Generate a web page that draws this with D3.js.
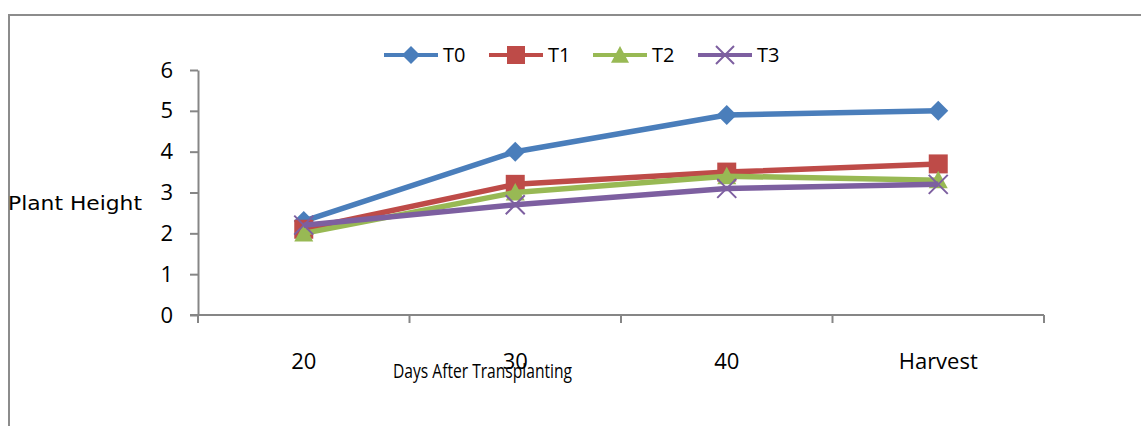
<!DOCTYPE html>
<html>
<head>
<meta charset="utf-8">
<script src="https://cdn.jsdelivr.net/npm/d3@7"></script>
<style>
  html, body { margin: 0; padding: 0; background: #fff; }
  svg { display: block; }
</style>
</head>
<body>
<svg id="chart" width="1141" height="426"></svg>
<script>
// Plant height by days after transplanting, for four treatments
const categories = ["20", "30", "40", "Harvest"];
const seriesNames = ["T0", "T1", "T2", "T3"];
const T0 = [2.3, 4.0, 4.9, 5.0];
const T1 = [2.1, 3.2, 3.5, 3.7];
const T2 = [2.0, 3.0, 3.4, 3.3];
const T3 = [2.2, 2.7, 3.1, 3.2];
const yTicks = [0, 1, 2, 3, 4, 5, 6];

const seriesValues = [T0, T1, T2, T3];
const colors = ["#4a7ebb", "#be4b48", "#98b954", "#7d5fa0"];
const symbols = ["diamond", "square", "triangle", "cross"];

const labelFont = "'Open Sans', 'Noto Sans', sans-serif";

const svg = d3.select("#chart");

// outer frame
svg.append("path")
  .attr("d", "M9,426 V15 H1141")
  .attr("fill", "none")
  .attr("stroke", "#8c8c8c")
  .attr("stroke-width", 2);

const plot = { left: 198, right: 1044, top: 70, bottom: 315 };

const x = d3.scaleBand().domain(categories).range([plot.left, plot.right]);
const y = d3.scaleLinear().domain([0, 6]).range([plot.bottom, plot.top]);

// y axis
const yAxis = svg.append("g")
  .attr("transform", `translate(${plot.left},0)`)
  .call(d3.axisLeft(y).tickValues(yTicks).tickFormat(d3.format("d"))
    .tickSize(8).tickPadding(17).tickSizeOuter(0));
yAxis.select(".domain").attr("stroke", "#868686").attr("stroke-width", 2);
yAxis.selectAll(".tick line").attr("stroke", "#868686").attr("stroke-width", 2);
yAxis.selectAll(".tick text")
  .attr("fill", "#000")
  .attr("font-family", labelFont)
  .attr("font-size", 22);

// x axis with tick marks at band edges
const xAxis = svg.append("g")
  .attr("transform", `translate(0,${plot.bottom})`);
xAxis.append("line")
  .attr("x1", plot.left - 8).attr("x2", plot.right)
  .attr("stroke", "#868686").attr("stroke-width", 2);
const edges = categories.map(c => x(c)).concat([x(categories[categories.length - 1]) + x.bandwidth()]);
xAxis.selectAll("line.edge").data(edges).join("line")
  .attr("class", "edge")
  .attr("x1", d => d).attr("x2", d => d)
  .attr("y1", 0).attr("y2", 8)
  .attr("stroke", "#868686").attr("stroke-width", 2);
xAxis.selectAll("text.cat").data(categories).join("text")
  .attr("class", "cat")
  .attr("x", d => x(d) + x.bandwidth() / 2)
  .attr("y", 54)
  .attr("text-anchor", "middle")
  .attr("font-family", labelFont)
  .attr("font-size", 22)
  .attr("fill", "#000")
  .text(d => d);

// axis titles
svg.append("text")
  .attr("x", 393).attr("y", 378)
  .attr("font-family", "'Liberation Sans Narrow', 'Open Sans', sans-serif")
  .attr("font-size", 20)
  .attr("textLength", 179)
  .attr("lengthAdjust", "spacingAndGlyphs")
  .attr("fill", "#000")
  .text("Days After Transplanting");

svg.append("text")
  .attr("x", 8).attr("y", 210)
  .attr("font-family", "'DejaVu Sans', sans-serif")
  .attr("font-size", 19.5)
  .attr("textLength", 134)
  .attr("lengthAdjust", "spacingAndGlyphs")
  .attr("fill", "#000")
  .text("Plant Height");

// marker shapes
function markerPath(kind, s) {
  const h = s / 2;
  switch (kind) {
    case "diamond": return `M0,${-h}L${h},0L0,${h}L${-h},0Z`;
    case "square": return `M${-h},${-h}H${h}V${h}H${-h}Z`;
    case "triangle": return `M0,${-h}L${h},${h * 0.85}L${-h},${h * 0.85}Z`;
    case "cross": return `M${-h},${-h}L${h},${h}M${h},${-h}L${-h},${h}`;
  }
}

function drawMarker(g, kind, color, cx, cy, s) {
  const p = g.append("path")
    .attr("transform", `translate(${cx},${cy})`)
    .attr("d", markerPath(kind, s));
  if (kind === "cross") {
    p.attr("fill", "none").attr("stroke", color).attr("stroke-width", 2);
  } else {
    p.attr("fill", color);
  }
}

const line = d3.line()
  .x((d, i) => x(categories[i]) + x.bandwidth() / 2)
  .y(d => y(d));

seriesValues.forEach((vals, si) => {
  const g = svg.append("g");
  g.append("path")
    .datum(vals)
    .attr("d", line)
    .attr("fill", "none")
    .attr("stroke", colors[si])
    .attr("stroke-width", 5.5)
    .attr("stroke-linejoin", "round");
  vals.forEach((v, i) => {
    drawMarker(g, symbols[si], colors[si], x(categories[i]) + x.bandwidth() / 2, y(v), si === 0 ? 20 : 19);
  });
});

// legend
const legendX = [384, 489, 593, 698];
const legend = svg.append("g");
seriesNames.forEach((name, si) => {
  const lx = legendX[si];
  legend.append("line")
    .attr("x1", lx).attr("x2", lx + 54)
    .attr("y1", 55).attr("y2", 55)
    .attr("stroke", colors[si]).attr("stroke-width", 4);
  drawMarker(legend, symbols[si], colors[si], lx + 27, 55, 18);
  legend.append("text")
    .attr("x", lx + 59).attr("y", 62)
    .attr("font-family", labelFont)
    .attr("font-size", 20)
    .attr("fill", "#000")
    .text(name);
});
</script>
</body>
</html>
